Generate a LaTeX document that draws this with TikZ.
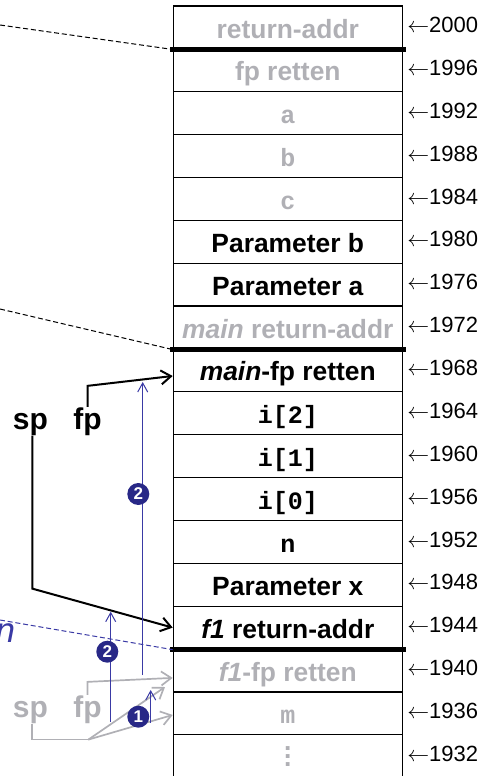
\documentclass[tikz,border=0pt]{standalone}
\usepackage{fontspec}
\setmainfont{Liberation Sans}
\setmonofont{Liberation Mono}
\usetikzlibrary{arrows.meta, positioning}
\definecolor{oldgray}{RGB}{176,176,181}
\definecolor{stepblue}{RGB}{58,58,165}
\definecolor{markblue}{RGB}{40,40,135}
\newcommand{\faded}[1]{\textcolor{oldgray}{#1}}
\newcommand{\mono}[1]{{\ttfamily\fontsize{12.5}{15}\selectfont #1}}

\begin{document}
\begin{tikzpicture}[x=0.5pt, y=-0.5pt,
    cell/.style={draw, line width=0.6pt, minimum width=114.5pt, minimum height=21.43pt,
      inner sep=0pt, text height=10.6pt, text depth=0pt,
      font=\bfseries\fontsize{13.2}{15}\selectfont},
    addr/.style={inner sep=0pt, font=\fontsize{11}{13}\selectfont},
    reg/.style={inner sep=0pt, anchor=base, font=\bfseries\fontsize{15}{18}\selectfont},
    sepline/.style={line width=2.3pt},
    link/.style={dash pattern=on 2.5pt off 1.4pt, line width=0.5pt},
    ptr/.style={line width=1pt, -{Straight Barb[length=5pt, width=7pt]}},
    oldptr/.style={ptr, oldgray, line width=0.85pt},
    jump/.style={stepblue, line width=0.5pt, -{Straight Barb[length=4.5pt, width=5pt]}},
    badge/.style={circle, fill=markblue, text=white, inner sep=0pt, minimum size=11pt,
      font=\bfseries\fontsize{8.5}{9}\selectfont}]
  \useasboundingbox (0,0) rectangle (488,776);
  \clip (0,0) rectangle (488,776);

  % the stack, one cell per word, addresses going down
  \foreach \txt [count=\i from 0] in {%
      {\faded{return-addr}}, {\faded{fp retten}}, {\faded{\mono{a}}}, {\faded{\mono{b}}},
      {\faded{\mono{c}}}, {Parameter b}, {Parameter a}, {\faded{\textit{main} return-addr}},
      {\textit{main}-fp retten}, {\mono{i[2]}}, {\mono{i[1]}}, {\mono{i[0]}}, {\mono{n}},
      {Parameter x}, {\textit{f1} return-addr}, {\faded{\textit{f1}-fp retten}},
      {\faded{\mono{m}}}, {\faded{$\vdots$}}} {
    \node[cell] (c\i) at (287.8, 27.43+42.87*\i) {\txt};
    \pgfmathtruncatemacro\addr{2000-4*\i}
    \node[addr, right=2pt of c\i.east, yshift=1.2pt] (a\i) {$\leftarrow$\addr};
  }
  \foreach \i in {0,7,14}
    \draw[sepline] ([xshift=-1.3pt]c\i.south west) -- ([xshift=1.7pt]c\i.south east);

  % frame links
  \coordinate (ln0) at (0,25);
  \coordinate (ln1) at (0,309);
  \coordinate (ln2) at (0,620);
  \draw[link] (ln0) -- (c0.south west);
  \draw[link] (ln1) -- (c7.south west);
  \draw[link, stepblue] (ln2) -- (c14.south west);
  \node[inner sep=0pt, anchor=base east, stepblue, font=\itshape\fontsize{17.5}{20}\selectfont] (fn) at (15.5,642) {n};

  % registers before the call
  \node[reg, oldgray] (oldsp) at (30.5,717) {sp};
  \node[reg, oldgray] (oldfp) at (87.5,717) {fp};
  \coordinate (oldtip) at (165,687);
  \draw[oldptr] (oldfp.north) -- ++(0,-13) -- ([yshift=-3.7pt]c15.west);
  \draw[oldptr, -] ([xshift=0.9pt]oldsp.south) -- ++(0,16) -- ++(56,0) coordinate (fork);
  \draw[oldptr] (fork) -- ([yshift=-0.8pt]c16.west);
  \draw[oldptr] (fork) -- (oldtip);

  % registers inside f1
  \node[reg] (sp) at (30.5,429) {sp};
  \node[reg] (fp) at (87.5,429) {fp};
  \draw[ptr] (fp.north) -- ++(0,-21) -- ([yshift=-2.8pt]c8.west);
  \draw[ptr] ([xshift=0.9pt]sp.south) -- ++(0,153) -- (c14.west);

  % steps
  \coordinate (s1a) at (150.7,722.7);
  \coordinate (s1b) at (150.7,690);
  \coordinate (s2a) at (110.7,721.7);
  \coordinate (s2b) at (110.7,611.7);
  \coordinate (s3a) at (142.7,675);
  \coordinate (s3b) at (142.7,382);
  \draw[jump] (s1a) -- (s1b);
  \draw[jump] (s2a) -- (s2b);
  \draw[jump] (s3a) -- (s3b);
  \node[badge] (b1) at (138.3,716.7) {1};
  \node[badge] (b2) at (107.3,651.7) {2};
  \node[badge] (b3) at (138.3,494) {2};
\end{tikzpicture}
\end{document}
